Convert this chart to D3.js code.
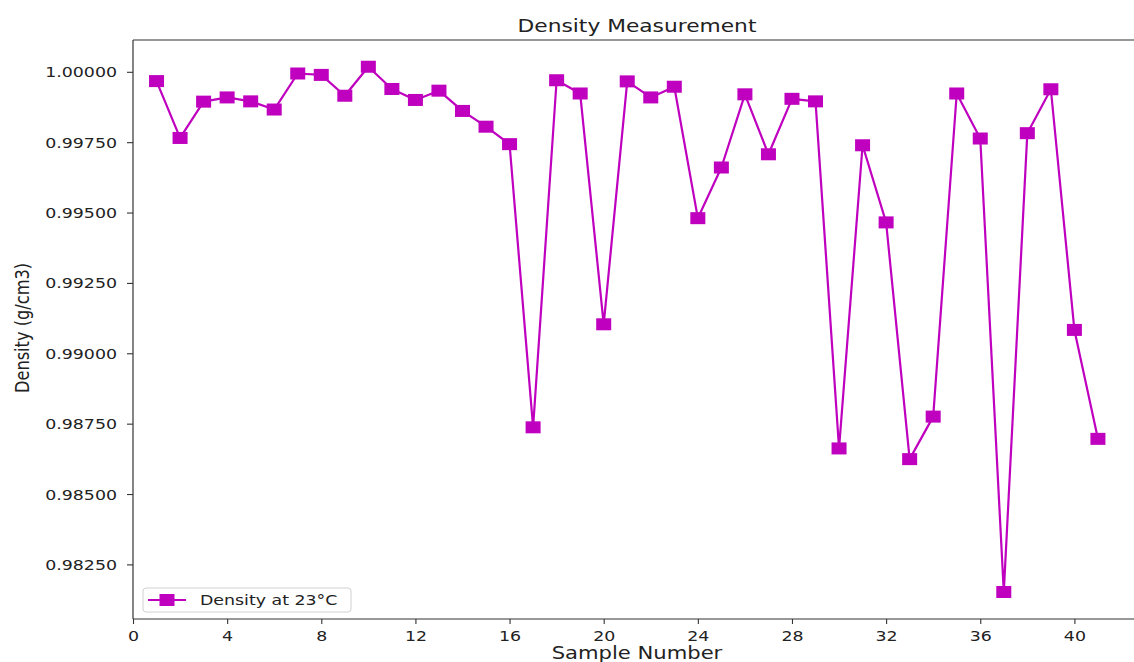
<!DOCTYPE html>
<html>
<head>
<meta charset="utf-8">
<script src="https://cdn.jsdelivr.net/npm/d3@7"></script>
<style>
  html, body { margin: 0; padding: 0; background: #fff; }
  svg { display: block; }
  text { font-family: "DejaVu Sans", sans-serif; fill: #222; }
</style>
</head>
<body>
<svg id="chart" width="1134" height="662"></svg>
<script>
// Sample numbers and measured densities (g/cm3) at 23 °C
const samples = [1, 2, 3, 4, 5, 6, 7, 8, 9, 10, 11, 12, 13, 14, 15, 16, 17, 18, 19, 20,
                 21, 22, 23, 24, 25, 26, 27, 28, 29, 30, 31, 32, 33, 34, 35, 36, 37, 38, 39, 40, 41];
const density = [0.99967, 0.99765, 0.99894, 0.99909, 0.99895, 0.99866, 0.99994, 0.99989, 0.99915, 1.00018,
                 0.99939, 0.99900, 0.99933, 0.99861, 0.99805, 0.99743, 0.98737, 0.99970, 0.99923, 0.99103,
                 0.99966, 0.99909, 0.99947, 0.99480, 0.99660, 0.99920, 0.99707, 0.99904, 0.99895, 0.98662,
                 0.99739, 0.99465, 0.98624, 0.98775, 0.99923, 0.99763, 0.98152, 0.99782, 0.99938, 0.99083,
                 0.98696];
const xTicks = [0, 4, 8, 12, 16, 20, 24, 28, 32, 36, 40];
const yTicks = [0.9825, 0.985, 0.9875, 0.99, 0.9925, 0.995, 0.9975, 1.0];

const title = "Density Measurement";
const xLabel = "Sample Number";
const yLabel = "Density (g/cm3)";
const seriesName = "Density at 23°C";

const color = "#bf00bf";
const sx = 1.25;              // horizontal stretch applied to text and markers
const mw = 15, mh = 12;       // square marker size

const svg = d3.select("#chart");
const plotL = 133, plotR = 1145, plotT = 40, plotB = 619;

const x = d3.scaleLinear().domain([0, 43]).range([plotL, plotR]);
const y = d3.scaleLinear().domain([0.98056, 1.00113]).range([plotB, plotT]);

// frame (top and right spines; right spine lies beyond the view)
const frame = svg.append("g").attr("stroke", "#333").attr("stroke-width", 1.2).attr("fill", "none");
frame.append("line").attr("x1", plotL).attr("x2", plotR).attr("y1", plotT).attr("y2", plotT);
frame.append("line").attr("x1", plotR).attr("x2", plotR).attr("y1", plotT).attr("y2", plotB);

// axes
const xAxis = svg.append("g").attr("transform", `translate(0,${plotB})`)
  .call(d3.axisBottom(x).tickValues(xTicks).tickFormat(d3.format("d")).tickSize(5).tickPadding(4).tickSizeOuter(0));
const yAxis = svg.append("g").attr("transform", `translate(${plotL},0)`)
  .call(d3.axisLeft(y).tickValues(yTicks).tickFormat(d3.format(".5f")).tickSize(6).tickSizeOuter(0));

[xAxis, yAxis].forEach(g => {
  g.select(".domain").attr("stroke", "#333").attr("stroke-width", 1.2);
  g.selectAll(".tick line").attr("stroke", "#333").attr("stroke-width", 1.1);
  g.selectAll(".tick text").attr("font-size", 13.9).attr("fill", "#222")
    .style("font-family", "'DejaVu Sans', sans-serif");
});
// run the spines across the full plot extent
xAxis.select(".domain").attr("d", `M${plotL},0H${plotR}`);
yAxis.select(".domain").attr("d", `M0,${plotT}V${plotB}`);
xAxis.selectAll(".tick text").attr("dy", "0.95em").attr("transform", `scale(${sx},1)`);
yAxis.selectAll(".tick text").attr("x", -16 / sx).attr("dy", "0.36em").attr("transform", `scale(${sx},1)`);

// series line
const line = d3.line().x((d, i) => x(samples[i])).y(d => y(d));
svg.append("path").datum(density)
  .attr("d", line)
  .attr("fill", "none")
  .attr("stroke", color)
  .attr("stroke-width", 2.2)
  .attr("stroke-linejoin", "round");

// square markers
svg.append("g").selectAll("rect").data(density).join("rect")
  .attr("x", (d, i) => x(samples[i]) - mw / 2)
  .attr("y", d => y(d) - mh / 2)
  .attr("width", mw).attr("height", mh)
  .attr("fill", color);

// title and axis labels
svg.append("text")
  .attr("transform", `translate(637,32) scale(${sx},1)`)
  .attr("text-anchor", "middle").attr("font-size", 17.4).text(title);
svg.append("text")
  .attr("transform", `translate(637,659) scale(${sx},1)`)
  .attr("text-anchor", "middle").attr("font-size", 16.9).text(xLabel);
svg.append("text")
  .attr("transform", `translate(29,328) scale(${sx},1) rotate(-90)`)
  .attr("text-anchor", "middle").attr("font-size", 16.2).text(yLabel);

// legend
const lg = svg.append("g");
lg.append("rect").attr("x", 143).attr("y", 588).attr("width", 208).attr("height", 24)
  .attr("rx", 3).attr("fill", "#fff").attr("fill-opacity", 0.8)
  .attr("stroke", "#d0d0d0").attr("stroke-width", 1);
lg.append("line").attr("x1", 148).attr("x2", 186).attr("y1", 600).attr("y2", 600)
  .attr("stroke", color).attr("stroke-width", 2.2);
lg.append("rect").attr("x", 167 - mw / 2).attr("y", 600 - mh / 2).attr("width", mw).attr("height", mh)
  .attr("fill", color);
lg.append("text").attr("transform", `translate(200,605) scale(${sx},1)`)
  .attr("font-size", 13.9).text(seriesName);
</script>
</body>
</html>
